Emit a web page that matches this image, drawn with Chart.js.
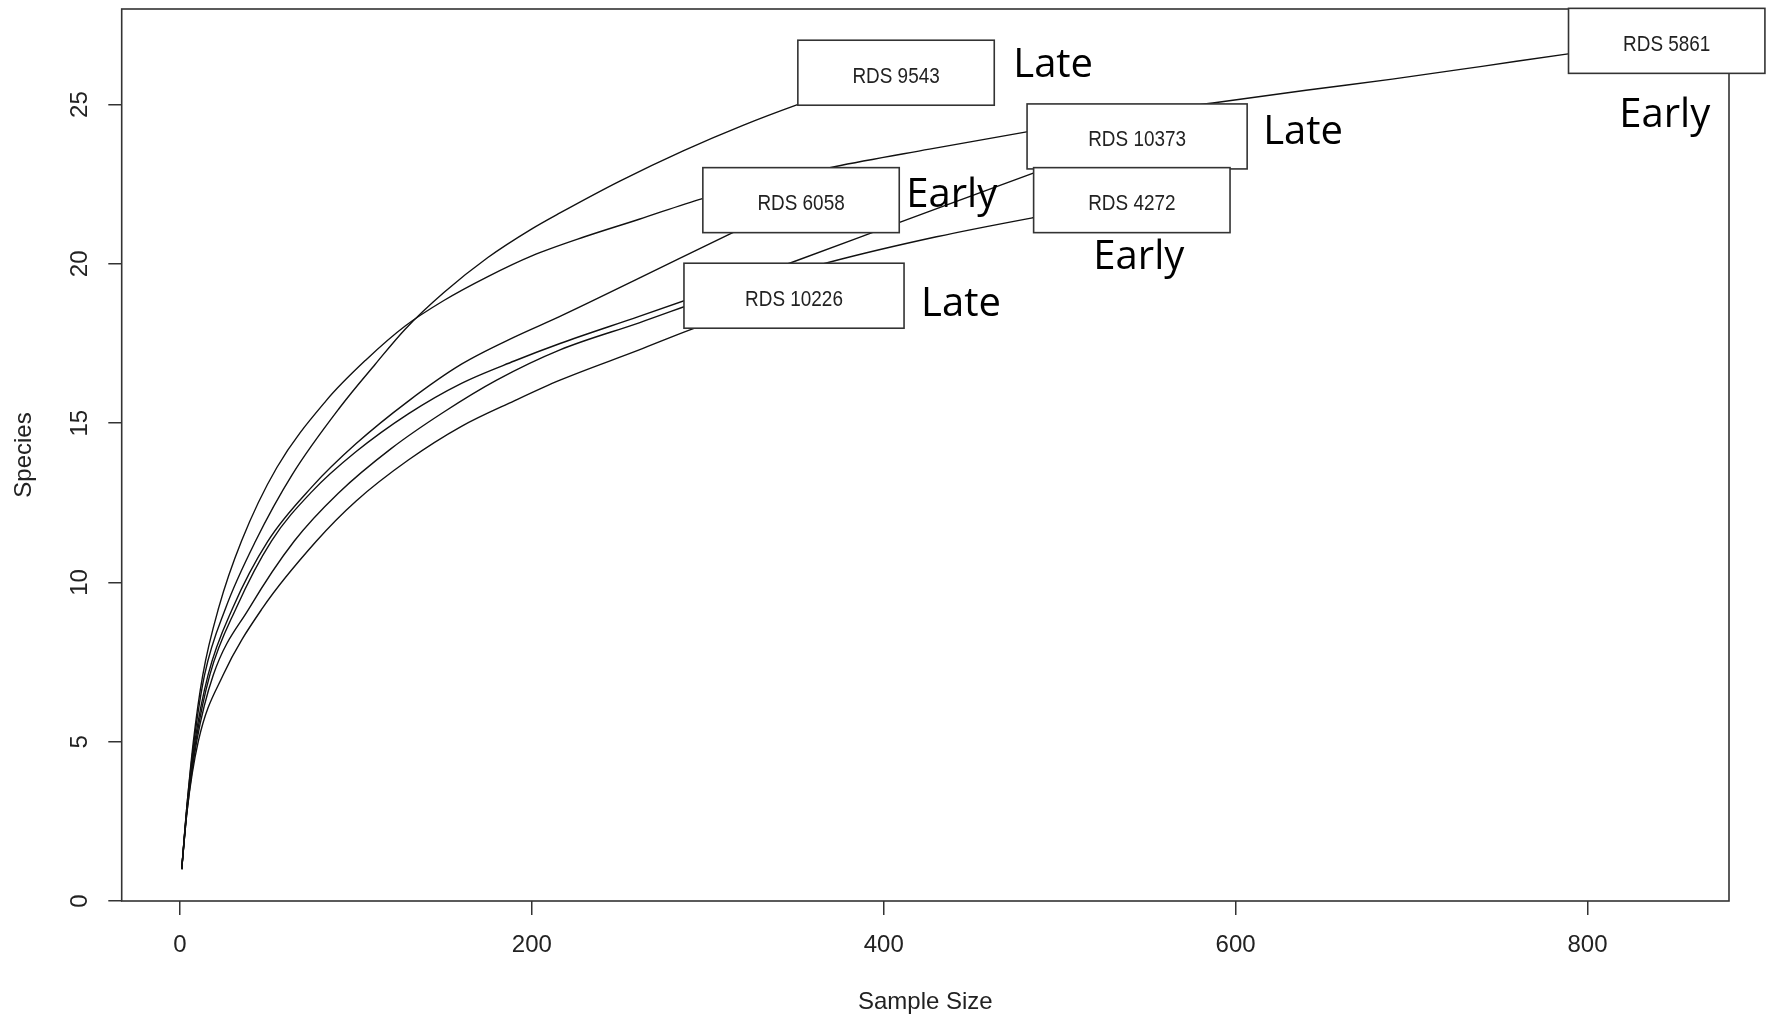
<!DOCTYPE html>
<html>
<head>
<meta charset="utf-8">
<script src="https://cdn.jsdelivr.net/npm/chart.js@4/dist/chart.umd.min.js"></script>
<style>
  html, body { margin: 0; padding: 0; background: #fff; }
</style>
</head>
<body>
<canvas id="rare" width="1777" height="1016"></canvas>
<script>
// rarefaction curves: subsample size -> expected number of species
const sampleNames = ['RDS 9543', 'RDS 10373', 'RDS 6058', 'RDS 4272', 'RDS 10226', 'RDS 5861'];
const stages = ['Late', 'Late', 'Early', 'Early', 'Late', 'Early'];

const n9543 = [1, 4, 8, 14, 26, 43, 64, 91, 111, 128, 150, 175, 200, 216, 250, 286, 320, 351, 380, 407];
const s9543 = [1, 3.0, 5.0, 7.1, 9.2, 11.3, 13.4, 15.5, 16.85, 17.95, 19.1, 20.2, 21.1, 21.6, 22.6, 23.55, 24.35, 25.0, 25.55, 26];

const n10373 = [1, 4, 9, 17, 32, 52, 75, 100, 130, 160, 190, 216, 261, 300, 348, 409, 485, 544];
const s10373 = [1, 2.9, 5.0, 7.1, 9.2, 11.3, 12.85, 14.1, 15.3, 16.25, 16.95, 17.5, 18.35, 19.1, 20.05, 21.3, 22.85, 24];

const n6058 = [1, 4, 8.5, 16, 30, 50, 75, 100, 130, 160, 190, 216, 261, 313, 353];
const s6058 = [1, 2.9, 5.0, 7.1, 9.2, 11.3, 13.0, 14.35, 15.7, 16.85, 17.7, 18.35, 19.55, 20.95, 22];

const n4272 = [1, 4, 9.5, 19, 39.5, 65, 90, 120, 150, 180, 216, 261, 310, 369, 430, 485, 541];
const s4272 = [1, 2.8, 5.0, 7.1, 9.2, 11.3, 12.8, 14.2, 15.35, 16.35, 17.3, 18.15, 19.1, 20.05, 20.85, 21.45, 22];

const n10226 = [1, 4, 10.4, 24.6, 47, 77.6, 100, 130, 160, 190, 216, 261, 291, 320, 349];
const s10226 = [1, 2.8, 5.0, 7.1, 9.2, 11.3, 12.55, 13.85, 14.9, 15.7, 16.35, 17.3, 17.95, 18.5, 19];

const n5861 = [1, 4, 7.6, 13, 22, 35, 55, 83, 106, 128, 150, 175, 200, 230, 261, 297, 340, 372, 426, 482, 530, 587, 640, 689, 740, 790, 845];
const s5861 = [1, 3.0, 5.0, 7.1, 9.2, 11.3, 13.6, 15.7, 17.0, 18.05, 18.85, 19.6, 20.25, 20.85, 21.4, 22.05, 22.65, 23.05, 23.6, 24.15, 24.6, 25.05, 25.45, 25.8, 26.2, 26.6, 27];

const xTicks = [0, 200, 400, 600, 800];
const yTicks = [0, 5, 10, 15, 20, 25];

const curves = [
  [n9543, s9543], [n10373, s10373], [n6058, s6058],
  [n4272, s4272], [n10226, s10226], [n5861, s5861]
];

// where the Early/Late tag sits next to each label box
const tagPlacement = [
  { side: 'right', gap: 19, dy: -10 },
  { side: 'right', gap: 16, dy: -7 },
  { side: 'right', gap: 7, dy: -7 },
  { side: 'below', gap: 8, dx: 7 },
  { side: 'right', gap: 17, dy: 6 },
  { side: 'below', gap: 25, dx: -2 }
];

const FONT = '"Liberation Sans", Arial, sans-serif';
Chart.defaults.font.family = FONT;

// scales keep no extra room for overhanging tick labels
const noOverhang = s => {
  s.paddingTop = 0; s.paddingBottom = 0;
  s.paddingLeft = 0; s.paddingRight = 0;
};

// frame around the plot region, then boxed labels at the end of each curve
const boxLabels = {
  id: 'boxLabels',
  afterDatasetsDraw(chart) {
    const { ctx, chartArea: a, scales: { x, y } } = chart;
    ctx.save();
    ctx.strokeStyle = '#333';
    ctx.lineWidth = 1.6;
    ctx.strokeRect(a.left, a.top, a.right - a.left, a.bottom - a.top);

    const squeeze = 0.86;
    chart.data.datasets.forEach((ds, i) => {
      const last = ds.data[ds.data.length - 1];
      const cx = x.getPixelForValue(last.x);
      const cy = y.getPixelForValue(last.y);
      ctx.font = '22px ' + FONT;
      const tw = ctx.measureText(ds.label).width * squeeze;
      const w = tw * 2.25, h = 65;
      const bx = cx - w / 2, by = cy - h / 2;
      ctx.fillStyle = '#fff';
      ctx.fillRect(bx, by, w, h);
      ctx.strokeStyle = '#333';
      ctx.lineWidth = 1.6;
      ctx.strokeRect(bx, by, w, h);

      ctx.save();
      ctx.translate(cx, cy + 10);
      ctx.scale(squeeze, 1);
      ctx.fillStyle = '#222';
      ctx.textAlign = 'center';
      ctx.textBaseline = 'alphabetic';
      ctx.fillText(ds.label, 0, 0);
      ctx.restore();

      // stage tag
      const p = tagPlacement[i];
      const capH = 0.714 * 40;
      ctx.font = '40px "Open Sans", sans-serif';
      ctx.fillStyle = '#000';
      ctx.textBaseline = 'alphabetic';
      if (p.side === 'right') {
        ctx.textAlign = 'left';
        ctx.fillText(stages[i], bx + w + p.gap, cy + p.dy + capH / 2);
      } else {
        ctx.textAlign = 'center';
        ctx.fillText(stages[i], cx + p.dx, by + h + p.gap + capH);
      }
    });
    ctx.restore();
  }
};

new Chart(document.getElementById('rare'), {
  type: 'line',
  data: {
    datasets: curves.map(([n, s], i) => ({
      label: sampleNames[i],
      data: n.map((v, k) => ({ x: v, y: s[k] })),
      borderColor: '#111',
      borderWidth: 1.4,
      pointRadius: 0,
      fill: false,
      cubicInterpolationMode: 'monotone'
    }))
  },
  options: {
    responsive: false,
    animation: false,
    devicePixelRatio: 1,
    layout: { padding: { left: 0, top: 9, right: 48, bottom: 0 } },
    plugins: { legend: { display: false }, tooltip: { enabled: false } },
    scales: {
      x: {
        type: 'linear',
        min: -33.1,
        max: 880.4,
        afterBuildTicks: s => { s.ticks = xTicks.map(v => ({ value: v })); },
        afterFit: s => { s.height = 115; noOverhang(s); },
        border: { display: false },
        grid: { drawOnChartArea: false, drawTicks: true, tickLength: 14, color: '#333', lineWidth: 1.5 },
        ticks: { padding: 16, color: '#222', maxRotation: 0, font: { size: 24 } },
        title: {
          display: true, text: 'Sample Size', color: '#222',
          font: { size: 24, lineHeight: 1.1 }, padding: { top: 0, bottom: 0 }
        }
      },
      y: {
        type: 'linear',
        min: 0,
        max: 28,
        afterBuildTicks: s => { s.ticks = yTicks.map(v => ({ value: v })); },
        afterFit: s => { s.width = 121.7; noOverhang(s); },
        border: { display: false },
        grid: { drawOnChartArea: false, drawTicks: true, tickLength: 13.4, color: '#333', lineWidth: 1.5 },
        ticks: { padding: 14.5, color: '#222', minRotation: 90, maxRotation: 90, crossAlign: 'center', font: { size: 24 } },
        title: {
          display: true, text: 'Species', color: '#222',
          font: { size: 24, lineHeight: 1.1 }, padding: { top: 10.8, bottom: 0 }
        }
      }
    }
  },
  plugins: [boxLabels]
});
</script>
</body>
</html>
